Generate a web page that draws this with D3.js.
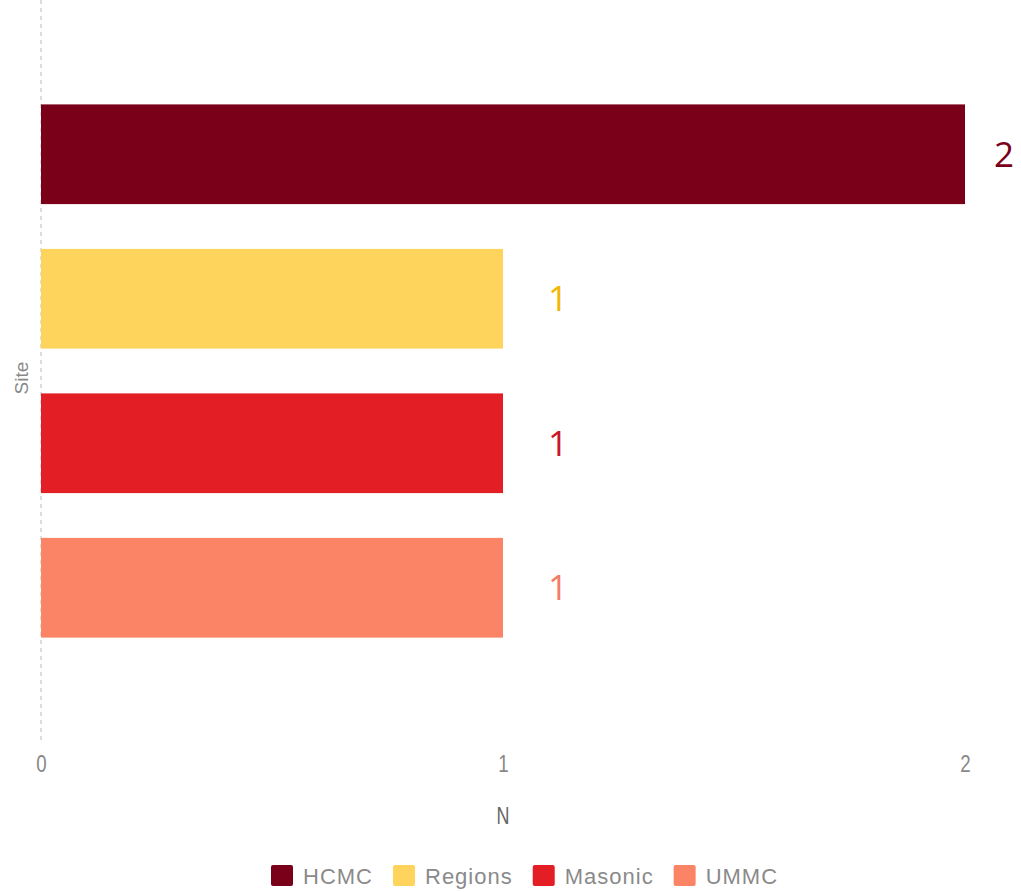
<!DOCTYPE html>
<html>
<head>
<meta charset="utf-8">
<script src="https://cdn.jsdelivr.net/npm/d3@7"></script>
<style>
  body { margin: 0; background: #fff; }
  svg { display: block; }
</style>
</head>
<body>
<svg id="chart"></svg>
<script>
const sites = ["HCMC", "Regions", "Masonic", "UMMC"];
const counts = [2, 1, 1, 1];
const barColors = ["#7a0019", "#ffd45c", "#e31e24", "#fb8466"];
const labelColors = ["#7a0019", "#f2b600", "#c8162c", "#f27c66"];
const xTicks = [0, 1, 2];

const width = 1021;
const height = 892;
const axisFont = "'Liberation Sans', Arial, sans-serif";

const svg = d3.select("#chart")
    .attr("width", width)
    .attr("height", height);

const data = sites.map((s, i) => ({ site: s, n: counts[i], color: barColors[i], label: labelColors[i] }));

const x = d3.scaleLinear()
    .domain([0, 2])
    .range([41, 965]);

const y = d3.scaleBand()
    .domain(sites)
    .range([82, 660])
    .paddingInner(0.31)
    .paddingOuter(0.155);

// dashed baseline
svg.append("line")
    .attr("x1", x(0)).attr("x2", x(0))
    .attr("y1", 0).attr("y2", 742)
    .attr("stroke", "#bbb")
    .attr("stroke-width", 1)
    .attr("stroke-dasharray", "4,4");

// x axis labels (narrow look)
const xAxis = svg.append("g")
    .attr("transform", "translate(0,772)")
    .call(d3.axisBottom(x).tickValues(xTicks).tickFormat(d3.format("d")).tickSize(0).tickPadding(0));
xAxis.select(".domain").remove();
xAxis.selectAll("text")
    .attr("dy", 0)
    .attr("transform", "scale(0.78,1)")
    .attr("font-family", axisFont)
    .attr("font-size", 24)
    .attr("fill", "#888");

svg.append("text")
    .attr("transform", `translate(${x(1)},824) scale(0.78,1)`)
    .attr("text-anchor", "middle")
    .attr("font-family", axisFont)
    .attr("font-size", 23)
    .attr("fill", "#666")
    .text("N");

svg.append("text")
    .attr("transform", "translate(28,378) rotate(-90)")
    .attr("text-anchor", "middle")
    .attr("font-family", axisFont)
    .attr("font-size", 19)
    .attr("fill", "#888")
    .text("Site");

// bars
svg.selectAll("rect.bar")
    .data(data)
    .enter()
    .append("rect")
    .attr("class", "bar")
    .attr("x", x(0))
    .attr("y", d => y(d.site))
    .attr("width", d => x(d.n) - x(0))
    .attr("height", y.bandwidth())
    .attr("fill", d => d.color);

// value labels
svg.selectAll("text.val")
    .data(data)
    .enter()
    .append("text")
    .attr("class", "val")
    .attr("x", d => Math.min(x(d.n) + 55, width - 17))
    .attr("y", d => y(d.site) + y.bandwidth() / 2)
    .attr("dy", "0.36em")
    .attr("text-anchor", "middle")
    .attr("font-family", "'Open Sans', 'Noto Sans', sans-serif")
    .attr("font-size", 35)
    .attr("fill", d => d.label)
    .text(d => d.n);

// legend
const legend = svg.append("g").attr("transform", "translate(271,865)");
let lx = 0;
data.forEach(d => {
    const g = legend.append("g").attr("transform", `translate(${lx},0)`);
    g.append("rect")
        .attr("width", 22).attr("height", 21)
        .attr("rx", 2)
        .attr("fill", d.color);
    const t = g.append("text")
        .attr("x", 32)
        .attr("y", 11)
        .attr("dy", "0.36em")
        .attr("font-family", axisFont)
        .attr("font-size", 22)
        .attr("letter-spacing", 1)
        .attr("fill", "#8a8a8a")
        .text(d.site);
    lx += 32 + t.node().getComputedTextLength() + 20;
});
</script>
</body>
</html>
